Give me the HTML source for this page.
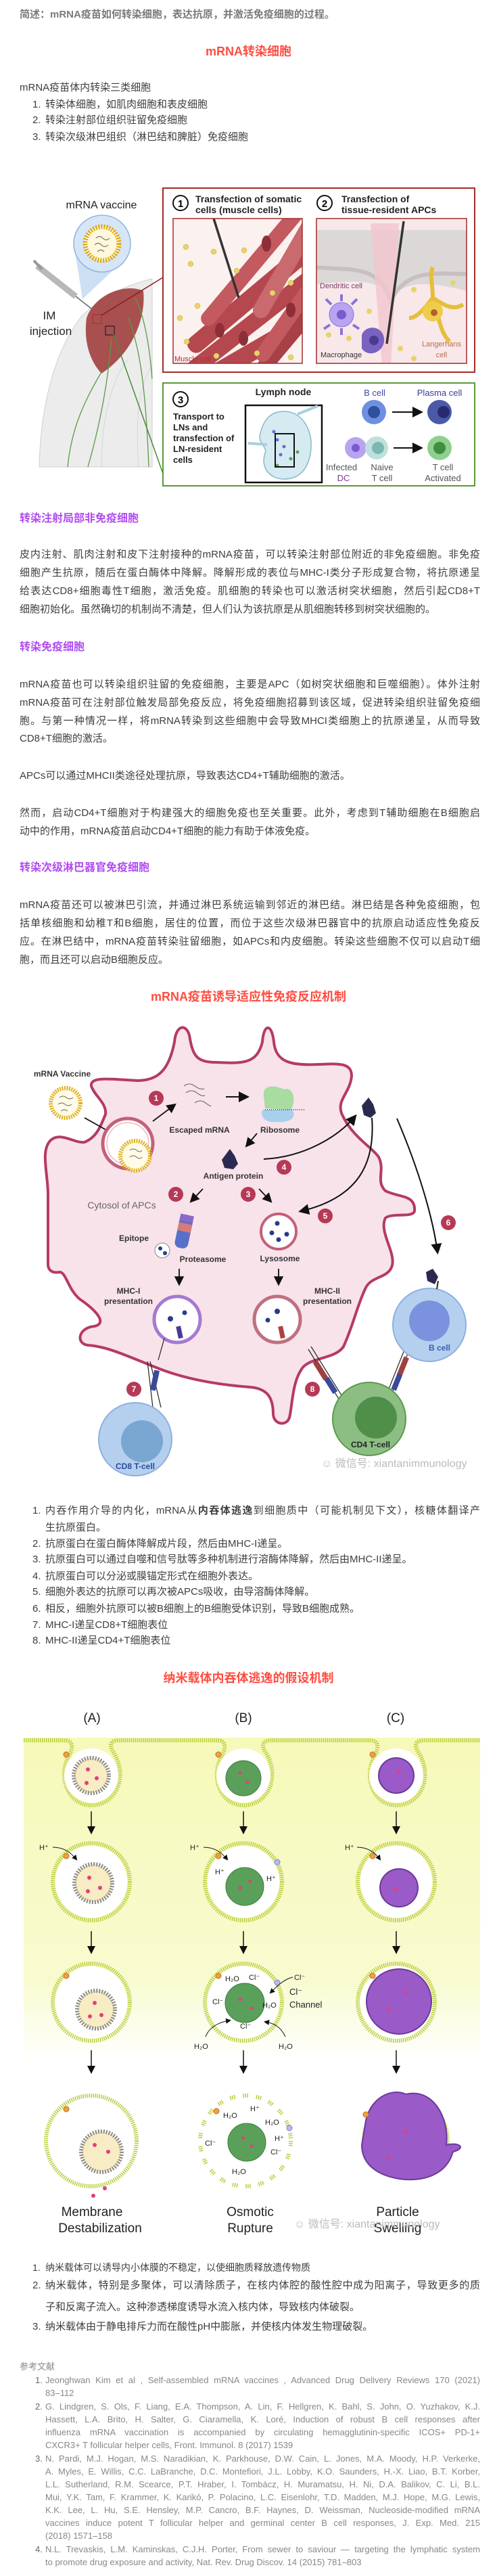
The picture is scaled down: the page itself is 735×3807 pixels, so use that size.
<!DOCTYPE html>
<html><head><meta charset="utf-8">
<style>
html,body{margin:0;padding:0;background:#fff;}
body{width:735px;height:3807px;position:relative;overflow:hidden;font-family:"Liberation Sans","Noto Sans CJK SC",sans-serif;color:#3e3e3e;}
.l{position:absolute;left:29px;width:681px;height:24px;line-height:24px;font-size:15px;white-space:nowrap;}
.j{text-align:justify;text-align-last:justify;}
.n{position:absolute;left:48px;height:24px;line-height:24px;font-size:15px;white-space:nowrap;}
.t{position:absolute;left:67px;height:24px;line-height:24px;font-size:15px;white-space:nowrap;}
.h{position:absolute;left:29px;height:24px;line-height:24px;font-size:16px;color:#b04cf0;font-weight:bold;white-space:nowrap;}
.r{position:absolute;left:0;width:735px;text-align:center;height:26px;line-height:26px;font-size:18px;color:#ff4c41;font-weight:bold;}
.rf{position:absolute;left:67px;width:643px;height:19px;line-height:19px;font-size:13px;color:#888;white-space:nowrap;}
.rn{position:absolute;left:52px;height:19px;line-height:19px;font-size:13px;color:#666;}
svg{position:absolute;left:0;top:0;}
</style></head><body>
<svg width="735" height="3807" viewBox="0 0 735 3807" font-family="Liberation Sans, sans-serif">
<defs>
<clipPath id="p1"><rect x="256" y="323" width="191" height="214"/></clipPath>
<clipPath id="p2"><rect x="468" y="323" width="222" height="214"/></clipPath>
<linearGradient id="yg" x1="0" y1="0" x2="0" y2="1">
<stop offset="0" stop-color="#f6f9b8"/><stop offset="0.75" stop-color="#f8fbcf"/><stop offset="1" stop-color="#ffffff"/></linearGradient>
<marker id="ah" markerWidth="8" markerHeight="8" refX="6" refY="4" orient="auto"><path d="M0,0 L8,4 L0,8 Z" fill="#111"/></marker>
</defs>

<!-- ============ FIGURE 1 ============ -->
<path d="M58 690 C60 600 80 520 120 468 C150 438 190 420 225 412 L225 690 Z" fill="#ececec" stroke="#cfcfcf"/>
<path d="M150 690 C150 620 165 560 190 530 M205 690 C200 620 205 570 225 540" fill="none" stroke="#d6d6d6"/>
<path d="M128 470 C140 435 185 418 212 430 C216 470 196 522 150 552 C130 530 124 500 128 470 Z" fill="#a8504f"/>
<path d="M150 550 C120 600 105 640 100 690 M165 500 C160 560 150 620 130 690 M190 470 C205 510 215 560 220 690 M200 440 C215 470 222 520 225 560" fill="none" stroke="#5a9a45" stroke-width="1.3"/>
<rect x="137" y="465" width="13" height="13" fill="none" stroke="#b03030" stroke-width="1.2"/>
<rect x="156" y="482" width="13" height="13" fill="none" stroke="#222" stroke-width="1.2"/>
<line x1="150" y1="466" x2="241" y2="410" stroke="#8b1a1a" stroke-width="1.5"/>
<line x1="168" y1="494" x2="241" y2="700" stroke="#4a8a3a" stroke-width="1.5"/>
<polygon points="112,378 190,378 122,442" fill="#bcd4ef" opacity="0.75"/>
<circle cx="151" cy="360" r="42" fill="#d6e6f7" stroke="#8fb3e0" stroke-width="1.5"/>
<circle cx="151" cy="360" r="25" fill="#fff8dc" stroke="#e0a800" stroke-width="7" stroke-dasharray="2 2"/>
<path d="M142 352 q5 -5 10 0 t10 0 M140 362 q5 -5 10 0 t10 0 M144 372 q5 -5 10 0" fill="none" stroke="#777" stroke-width="1.2"/>
<line x1="55" y1="393" x2="112" y2="438" stroke="#b8b8b8" stroke-width="9"/>
<line x1="50" y1="385" x2="62" y2="398" stroke="#999" stroke-width="4"/>
<line x1="112" y1="438" x2="135" y2="456" stroke="#666" stroke-width="1.5"/>
<text x="150" y="308" font-size="16" text-anchor="middle" fill="#222">mRNA vaccine</text>
<text x="73" y="472" font-size="17" text-anchor="middle" fill="#222">IM</text>
<text x="75" y="495" font-size="17" text-anchor="middle" fill="#222">injection</text>

<rect x="241" y="278" width="461" height="272" fill="#fff" stroke="#a52a2a" stroke-width="2"/>
<circle cx="267" cy="300" r="11" fill="#fff" stroke="#111" stroke-width="2"/>
<text x="267" y="306" font-size="15" font-weight="bold" text-anchor="middle">1</text>
<text x="289" y="299" font-size="14" font-weight="bold" fill="#222">Transfection of somatic</text>
<text x="289" y="315" font-size="14" font-weight="bold" fill="#222">cells (muscle cells)</text>
<circle cx="480" cy="300" r="11" fill="#fff" stroke="#111" stroke-width="2"/>
<text x="480" y="306" font-size="15" font-weight="bold" text-anchor="middle">2</text>
<text x="505" y="299" font-size="14" font-weight="bold" fill="#222">Transfection of</text>
<text x="505" y="315" font-size="14" font-weight="bold" fill="#222">tissue-resident APCs</text>

<g clip-path="url(#p1)">
<rect x="256" y="323" width="191" height="214" fill="#fbf1ef"/>
<g fill="#b5484f">
<rect x="250" y="420" width="260" height="26" rx="12" transform="rotate(-40 380 433)"/>
<rect x="250" y="460" width="260" height="24" rx="12" transform="rotate(-38 380 472)"/>
<rect x="260" y="380" width="230" height="22" rx="11" transform="rotate(-50 375 391)" fill="#c25a60"/>
<rect x="270" y="500" width="230" height="26" rx="12" transform="rotate(-30 385 513)"/>
<rect x="330" y="370" width="200" height="24" rx="12" transform="rotate(-60 430 382)" fill="#c86a6e"/>
<rect x="300" y="520" width="200" height="22" rx="11" transform="rotate(-50 400 531)" fill="#a84048"/>
<rect x="340" y="440" width="200" height="22" rx="11" transform="rotate(-55 440 451)" fill="#c25a60"/>
</g>
<g fill="#8e2e36"><ellipse cx="394" cy="360" rx="7" ry="12"/><ellipse cx="325" cy="488" rx="7" ry="11"/><ellipse cx="430" cy="458" rx="7" ry="11"/><ellipse cx="360" cy="500" rx="7" ry="11"/></g>
<g fill="#e6d46a" stroke="#c9b040" stroke-width="0.5"><circle cx="275" cy="365" r="4"/><circle cx="282" cy="390" r="4"/><circle cx="316" cy="372" r="4"/><circle cx="292" cy="452" r="4"/><circle cx="266" cy="470" r="4"/><circle cx="350" cy="400" r="4"/><circle cx="403" cy="433" r="4"/><circle cx="430" cy="418" r="4"/><circle cx="380" cy="522" r="4"/><circle cx="320" cy="526" r="4"/><circle cx="430" cy="528" r="4"/><circle cx="276" cy="505" r="4"/><circle cx="361" cy="370" r="4"/></g>
<line x1="316" y1="323" x2="353" y2="440" stroke="#333" stroke-width="3.5"/>
</g>
<rect x="256" y="323" width="191" height="214" fill="none" stroke="#a52a2a" stroke-width="1.5"/>
<text x="258" y="534" font-size="11" fill="#b03030">Muscle cell</text>

<g clip-path="url(#p2)">
<rect x="468" y="323" width="222" height="214" fill="#f8e8ea"/>
<path d="M468 340 L690 340 L690 430 C650 420 600 410 580 440 C560 410 520 415 468 420 Z" fill="#dcd8d8"/>
<path d="M468 395 C520 400 560 390 578 445 C600 395 650 405 690 405" fill="none" stroke="#c8c0c0" stroke-width="6"/>
<polygon points="548,330 590,330 578,540 565,540" fill="#f3c5ce" opacity="0.8"/>
<line x1="597" y1="327" x2="572" y2="508" stroke="#333" stroke-width="3.5"/>
<g fill="#b8a4f0" stroke="#8a74d6"><circle cx="505" cy="465" r="18"/><path d="M490 450 l-8 -8 M520 450 l8 -8 M488 480 l-9 6 M522 480 l9 6 M505 445 l0 -10 M505 485 l0 10" stroke-width="4"/></g>
<circle cx="505" cy="465" r="7" fill="#7a5ad0"/>
<path d="M535 495 C540 480 565 480 568 500 C570 520 545 530 535 515 Z" fill="#7a62c0"/>
<circle cx="553" cy="503" r="7" fill="#4a3a90"/>
<path d="M640 440 C655 450 670 460 685 450 M640 440 C650 470 650 490 665 505 M640 440 C625 460 615 470 605 470 M640 440 C640 420 635 405 640 395" fill="none" stroke="#e6be3a" stroke-width="6"/>
<circle cx="640" cy="460" r="15" fill="#f0cc4a"/>
<circle cx="642" cy="462" r="5" fill="#b0602a"/>
<g fill="#e6d46a"><circle cx="546" cy="460" r="4"/><circle cx="486" cy="495" r="4"/><circle cx="516" cy="500" r="4"/><circle cx="592" cy="515" r="4"/><circle cx="612" cy="428" r="4"/><circle cx="612" cy="530" r="4"/><circle cx="670" cy="418" r="4"/></g>
</g>
<rect x="468" y="323" width="222" height="214" fill="none" stroke="#a52a2a" stroke-width="1.5"/>
<text x="473" y="426" font-size="11" fill="#7a3c6a">Dendritic cell</text>
<text x="474" y="528" font-size="11" fill="#333">Macrophage</text>
<text x="653" y="512" font-size="11" text-anchor="middle" fill="#b5704a">Langerhans</text>
<text x="653" y="528" font-size="11" text-anchor="middle" fill="#b5704a">cell</text>

<rect x="241" y="566" width="461" height="152" fill="#fff" stroke="#5a9a3a" stroke-width="2"/>
<circle cx="267" cy="590" r="11" fill="#fff" stroke="#111" stroke-width="2"/>
<text x="267" y="596" font-size="15" font-weight="bold" text-anchor="middle">3</text>
<g font-size="13" font-weight="bold" fill="#222"><text x="256" y="620">Transport to</text><text x="256" y="636">LNs and</text><text x="256" y="652">transfection of</text><text x="256" y="668">LN-resident</text><text x="256" y="684">cells</text></g>
<text x="419" y="584" font-size="14" font-weight="bold" text-anchor="middle" fill="#222">Lymph node</text>
<rect x="363" y="599" width="113" height="114" fill="#fff" stroke="#111" stroke-width="2.5"/>
<path d="M420 608 C450 608 462 640 460 662 C458 690 445 708 420 708 C398 708 385 690 392 670 C396 660 380 655 385 640 C390 620 400 608 420 608 Z" fill="#d6eaf2" stroke="#8bb7c8" stroke-width="1.5"/>
<path d="M367 655 L395 657 M440 612 L470 600" stroke="#a8cfe0" stroke-width="4"/>
<g fill="#6a6ad0"><circle cx="410" cy="650" r="2.5"/><circle cx="420" cy="660" r="2.5"/><circle cx="415" cy="672" r="2.5"/><circle cx="405" cy="638" r="2.5"/></g>
<g fill="#5aa05a"><circle cx="430" cy="678" r="2.5"/><circle cx="440" cy="668" r="2.5"/><circle cx="410" cy="688" r="2.5"/></g>
<rect x="407" y="641" width="28" height="49" fill="none" stroke="#111" stroke-width="2"/>
<text x="554" y="585" font-size="13" text-anchor="middle" fill="#3a4ab0">B cell</text>
<text x="650" y="585" font-size="13" text-anchor="middle" fill="#3a3a9a">Plasma cell</text>
<circle cx="553" cy="609" r="18" fill="#6f8fe0"/><circle cx="553" cy="609" r="9" fill="#2f4f9f"/>
<line x1="580" y1="609" x2="622" y2="609" stroke="#111" stroke-width="2" marker-end="url(#ah)"/>
<circle cx="650" cy="609" r="18" fill="#4a5aa8"/><circle cx="656" cy="609" r="9" fill="#2a2a70"/>
<circle cx="526" cy="662" r="16" fill="#b8a4f0"/><circle cx="526" cy="662" r="6" fill="#7a5ad0"/>
<circle cx="557" cy="662" r="17" fill="#bfe0dc"/><circle cx="559" cy="662" r="9" fill="#7ab8b0"/>
<line x1="582" y1="662" x2="622" y2="662" stroke="#111" stroke-width="2" marker-end="url(#ah)"/>
<circle cx="650" cy="662" r="18" fill="#8fcf8f"/><circle cx="650" cy="662" r="9" fill="#3f8f3f"/>
<g font-size="13" fill="#555" text-anchor="middle"><text x="505" y="695">Infected</text><text x="508" y="711" fill="#7a3c8a">DC</text><text x="565" y="695">Naive</text><text x="565" y="711">T cell</text><text x="655" y="695">T cell</text><text x="655" y="711">Activated</text></g>

<!-- ============ FIGURE 2 ============ -->
<path d="M71 1870 L71 1763 C70 1730 60 1700 75 1685 C90 1672 110 1690 125 1688 C145 1680 150 1660 156 1647 C158 1630 140 1620 135 1605 C133 1590 165 1595 203 1597 C235 1597 250 1580 258 1540 C260 1515 275 1512 280 1530 C285 1560 290 1570 320 1570 C360 1572 380 1572 388 1540 C390 1512 402 1512 405 1540 C408 1570 430 1575 472 1573 C500 1572 520 1570 520 1590 C518 1615 498 1625 505 1645 C520 1680 550 1695 560 1710 C570 1730 555 1745 570 1760 C590 1770 615 1765 613 1790 C610 1800 580 1792 570 1800 C560 1820 585 1850 580 1870 C575 1890 548 1885 540 1905 C528 1930 522 1960 508 1990 C495 2010 455 2005 445 2025 C432 2045 432 2080 428 2095 C424 2108 405 2106 404 2090 C404 2065 395 2052 370 2050 C330 2047 280 2040 236 2023 C190 2005 160 1990 130 1988 C112 1986 115 1962 140 1960 C160 1955 140 1935 118 1920 C100 1905 98 1880 88 1880 C78 1882 72 1878 71 1870 Z" fill="#f8e3ea" stroke="#b53a66" stroke-width="4"/>
<text x="92" y="1591" font-size="12" font-weight="bold" text-anchor="middle" fill="#333">mRNA Vaccine</text>
<circle cx="97" cy="1630" r="22" fill="#fffbe6" stroke="#e0b020" stroke-width="6" stroke-dasharray="2 1.5"/>
<path d="M88 1622 q5 -4 10 0 t10 0 M86 1632 q5 -4 10 0 t10 0 M90 1642 q5 -4 10 0" fill="none" stroke="#666"/>
<line x1="125" y1="1652" x2="168" y2="1676" stroke="#111" stroke-width="1.8" marker-end="url(#ah)"/>
<circle cx="189" cy="1690" r="37" fill="#fff" stroke="#c4607a" stroke-width="5"/>
<circle cx="189" cy="1690" r="31" fill="none" stroke="#f0c8d2" stroke-width="2"/>
<circle cx="200" cy="1708" r="22" fill="#fffbe6" stroke="#e0b020" stroke-width="6" stroke-dasharray="2 1.5"/>
<path d="M192 1700 q5 -4 10 0 t8 0 M192 1710 q5 -4 10 0 t8 0" fill="none" stroke="#666"/>
<line x1="226" y1="1657" x2="258" y2="1633" stroke="#111" stroke-width="1.8" marker-end="url(#ah)"/>
<g fill="#b53a56"><circle cx="231" cy="1623" r="11"/><circle cx="420" cy="1725" r="11"/><circle cx="260" cy="1765" r="11"/><circle cx="367" cy="1765" r="11"/><circle cx="481" cy="1797" r="11"/><circle cx="663" cy="1807" r="11"/><circle cx="198" cy="2053" r="11"/><circle cx="462" cy="2053" r="11"/></g>
<g fill="#fff" font-size="12" font-weight="bold" text-anchor="middle"><text x="231" y="1627">1</text><text x="420" y="1729">4</text><text x="260" y="1769">2</text><text x="367" y="1769">3</text><text x="481" y="1801">5</text><text x="663" y="1811">6</text><text x="198" y="2057">7</text><text x="462" y="2057">8</text></g>
<path d="M272 1605 q8 -6 16 0 t14 4 M275 1615 q8 -6 16 0 t12 4 M288 1630 q8 -6 16 0 t8 4" fill="none" stroke="#777" stroke-width="1.3"/>
<line x1="334" y1="1621" x2="365" y2="1621" stroke="#111" stroke-width="2" marker-end="url(#ah)"/>
<path d="M390 1620 C388 1600 410 1605 420 1610 C432 1605 440 1625 430 1640 L392 1638 Z" fill="#a8dca0"/>
<path d="M388 1640 L432 1640 C440 1650 430 1660 410 1658 C390 1660 385 1650 388 1640 Z" fill="#a8d0ec"/>
<path d="M392 1640 L452 1640" stroke="#333" stroke-width="1.5" stroke-dasharray="1 2"/>
<text x="295" y="1674" font-size="12" font-weight="bold" text-anchor="middle" fill="#333">Escaped mRNA</text>
<text x="414" y="1674" font-size="12" font-weight="bold" text-anchor="middle" fill="#333">Ribosome</text>
<line x1="380" y1="1675" x2="365" y2="1693" stroke="#111" stroke-width="1.8" marker-end="url(#ah)"/>
<path d="M340 1698 L347 1708 L352 1720 L345 1728 L332 1726 L328 1714 Z" fill="#2a2a50"/>
<text x="345" y="1742" font-size="12" font-weight="bold" text-anchor="middle" fill="#333">Antigen protein</text>
<path d="M390 1713 C450 1710 500 1680 525 1650" fill="none" stroke="#111" stroke-width="2" marker-end="url(#ah)"/>
<path d="M545 1622 L552 1632 L556 1645 L548 1652 L538 1648 L535 1634 Z" fill="#2a2a50"/>
<line x1="300" y1="1757" x2="283" y2="1775" stroke="#111" stroke-width="1.8" marker-end="url(#ah)"/>
<line x1="383" y1="1757" x2="400" y2="1775" stroke="#111" stroke-width="1.8" marker-end="url(#ah)"/>
<path d="M550 1652 C555 1720 530 1770 445 1790" fill="none" stroke="#111" stroke-width="2" marker-end="url(#ah)"/>
<path d="M587 1653 C620 1730 640 1800 647 1850" fill="none" stroke="#111" stroke-width="2" marker-end="url(#ah)"/>
<text x="180" y="1786" font-size="14" text-anchor="middle" fill="#666">Cytosol of APCs</text>
<g><rect x="262" y="1795" width="20" height="50" rx="8" fill="#5a70c8" transform="rotate(12 272 1820)"/><rect x="262" y="1808" width="20" height="12" fill="#d87a7a" transform="rotate(12 272 1820)"/><rect x="262" y="1795" width="20" height="10" fill="#8a6ac8" transform="rotate(12 272 1820)"/></g>
<text x="198" y="1834" font-size="12" font-weight="bold" text-anchor="middle" fill="#333">Epitope</text>
<circle cx="240" cy="1848" r="11" fill="#fff" stroke="#888"/><circle cx="237" cy="1845" r="3" fill="#2a3a8a"/><circle cx="244" cy="1852" r="3" fill="#2a3a8a"/>
<text x="300" y="1865" font-size="12" font-weight="bold" text-anchor="middle" fill="#333">Proteasome</text>
<circle cx="412" cy="1820" r="26" fill="#fff" stroke="#c4607a" stroke-width="4"/>
<g fill="#2a3a8a"><circle cx="410" cy="1808" r="3.5"/><circle cx="402" cy="1822" r="3.5"/><circle cx="424" cy="1824" r="3.5"/><circle cx="412" cy="1832" r="3.5"/></g>
<text x="414" y="1864" font-size="12" font-weight="bold" text-anchor="middle" fill="#333">Lysosome</text>
<line x1="265" y1="1875" x2="265" y2="1897" stroke="#111" stroke-width="1.8" marker-end="url(#ah)"/>
<line x1="412" y1="1875" x2="412" y2="1897" stroke="#111" stroke-width="1.8" marker-end="url(#ah)"/>
<g font-size="12" font-weight="bold" text-anchor="middle" fill="#333"><text x="190" y="1912">MHC-I</text><text x="190" y="1927">presentation</text><text x="484" y="1912">MHC-II</text><text x="484" y="1927">presentation</text></g>
<circle cx="262" cy="1950" r="34" fill="#fff" stroke="#a47ad0" stroke-width="5"/>
<circle cx="410" cy="1950" r="34" fill="#fff" stroke="#c07080" stroke-width="5"/>
<g fill="#2a3a8a"><circle cx="252" cy="1949" r="4"/><circle cx="273" cy="1940" r="3.5"/><circle cx="410" cy="1938" r="4"/><circle cx="396" cy="1951" r="3.5"/></g>
<rect x="262" y="1960" width="7" height="18" fill="#4a3a9a" transform="rotate(-12 265 1969)"/>
<rect x="413" y="1960" width="7" height="18" fill="#b04040" transform="rotate(-12 416 1969)"/>
<g stroke="#222" stroke-width="1.2"><line x1="234" y1="2010" x2="243" y2="1978"/><line x1="222" y1="2012" x2="238" y2="2080"/><line x1="218" y1="2012" x2="226" y2="2080"/><line x1="460" y1="1990" x2="510" y2="2070"/><line x1="456" y1="1994" x2="505" y2="2074"/><line x1="602" y1="1985" x2="570" y2="2065"/><line x1="608" y1="1988" x2="576" y2="2068"/></g>
<rect x="225" y="2025" width="8" height="30" fill="#3a4a9a" transform="rotate(12 229 2040)"/>
<rect x="470" y="2010" width="8" height="30" fill="#a04040" transform="rotate(-32 474 2025)"/>
<rect x="485" y="2035" width="8" height="25" fill="#3a4a9a" transform="rotate(-32 489 2047)"/>
<rect x="592" y="2005" width="8" height="28" fill="#a04040" transform="rotate(22 596 2019)"/>
<rect x="583" y="2030" width="8" height="25" fill="#3a4a9a" transform="rotate(22 587 2042)"/>
<circle cx="635" cy="1958" r="54" fill="#b4d0ee" stroke="#8eb0e0" stroke-width="2"/>
<circle cx="635" cy="1952" r="30" fill="#7b92de"/>
<text x="650" y="1996" font-size="12" font-weight="bold" text-anchor="middle" fill="#3a5ab0">B cell</text>
<path d="M640 1875 L648 1887 L643 1898 L632 1893 L630 1880 Z" fill="#2a2a50"/>
<line x1="648" y1="1893" x2="646" y2="1905" stroke="#222" stroke-width="2"/>
<circle cx="546" cy="2097" r="54" fill="#8cbe84" stroke="#5a9a4a" stroke-width="2"/>
<circle cx="556" cy="2095" r="31" fill="#4f8f4a"/>
<text x="548" y="2139" font-size="12" font-weight="bold" text-anchor="middle" fill="#222">CD4 T-cell</text>
<circle cx="200" cy="2127" r="54" fill="#b4d0ee" stroke="#8eb0e0" stroke-width="2"/>
<circle cx="210" cy="2130" r="31" fill="#7aa6d2"/>
<text x="200" y="2171" font-size="12" font-weight="bold" text-anchor="middle" fill="#2a4a9a">CD8 T-cell</text>
<text x="475" y="2168" font-size="16" fill="#bbb">☺ 微信号: xiantanimmunology</text>

<!-- ============ FIGURE 3 ============ -->
<rect x="35" y="2568" width="675" height="478" fill="url(#yg)"/>
<g fill="none" stroke="#b8cc3a" stroke-width="6" stroke-dasharray="1.5 1.5">
<path d="M35 2572 L96 2572 C106 2572 110 2580 102 2595 C85 2625 100 2668 135 2668 C172 2668 190 2625 168 2590 C160 2578 165 2572 175 2572 L322 2572 C332 2572 336 2580 328 2595 C311 2625 325 2668 360 2668 C397 2668 415 2625 393 2590 C385 2578 390 2572 400 2572 L548 2572 C558 2572 562 2580 554 2595 C537 2625 551 2668 586 2668 C623 2668 641 2625 619 2590 C611 2578 616 2572 626 2572 L710 2572"/>
<circle cx="135" cy="2781" r="57"/><circle cx="360" cy="2781" r="57"/><circle cx="586" cy="2781" r="57"/>
<circle cx="135" cy="2959" r="57"/><circle cx="360" cy="2959" r="57"/><circle cx="586" cy="2959" r="57"/>
<circle cx="135" cy="3164" r="67"/>
<circle cx="363" cy="3164" r="67" stroke-dasharray="1.5 1.5 1.5 1.5 1.5 12"/>
<path d="M538 3165 A62 62 0 1 1 640 3210"/>
</g>
<g fill="#fff"><circle cx="135" cy="2624" r="40"/><circle cx="360" cy="2624" r="40"/><circle cx="586" cy="2624" r="40"/>
<circle cx="135" cy="2781" r="53"/><circle cx="360" cy="2781" r="53"/><circle cx="586" cy="2781" r="53"/>
<circle cx="135" cy="2959" r="53"/><circle cx="360" cy="2959" r="53"/><circle cx="586" cy="2959" r="53"/>
<circle cx="135" cy="3164" r="63"/><circle cx="363" cy="3164" r="63"/></g>
<g fill="#f8ecc4" stroke="#8a8a8a" stroke-width="6" stroke-dasharray="2 2">
<circle cx="135" cy="2624" r="26"/><circle cx="138" cy="2783" r="28"/><circle cx="142" cy="2970" r="28"/><circle cx="150" cy="3180" r="30"/></g>
<g fill="#5aa05a" stroke="#3a7a3a"><circle cx="360" cy="2628" r="26"/><circle cx="362" cy="2788" r="28"/><circle cx="362" cy="2960" r="29"/><circle cx="365" cy="3166" r="28"/></g>
<g fill="#9a5ac8" stroke="#6a3a9a" stroke-width="2"><circle cx="586" cy="2624" r="26"/><circle cx="590" cy="2790" r="28"/><circle cx="590" cy="2958" r="48"/><path d="M540 3140 C545 3100 580 3085 600 3095 C640 3085 665 3130 660 3170 C680 3165 690 3175 670 3180 C660 3215 625 3225 590 3220 C560 3215 535 3200 535 3170 Z"/></g>
<g fill="#e0407a"><circle cx="130" cy="2615" r="3"/><circle cx="143" cy="2628" r="3"/><circle cx="128" cy="2635" r="3"/><circle cx="132" cy="2775" r="3"/><circle cx="148" cy="2790" r="3"/><circle cx="130" cy="2795" r="3"/><circle cx="140" cy="2960" r="3"/><circle cx="150" cy="2978" r="3"/><circle cx="133" cy="2980" r="3"/><circle cx="140" cy="3170" r="3"/><circle cx="160" cy="3180" r="3"/><circle cx="155" cy="3234" r="3"/><circle cx="138" cy="3245" r="3"/><circle cx="355" cy="2620" r="2.5"/><circle cx="366" cy="2634" r="2.5"/><circle cx="355" cy="2790" r="2.5"/><circle cx="370" cy="2780" r="2.5"/><circle cx="355" cy="2955" r="2.5"/><circle cx="372" cy="2968" r="2.5"/><circle cx="360" cy="3160" r="2.5"/><circle cx="372" cy="3172" r="2.5"/><circle cx="590" cy="2618" r="2.5"/><circle cx="585" cy="2792" r="2.5"/><circle cx="600" cy="2945" r="2.5"/><circle cx="575" cy="2970" r="2.5"/><circle cx="600" cy="3150" r="2.5"/><circle cx="575" cy="3190" r="2.5"/></g>
<g stroke="#111" stroke-width="1.5" marker-end="url(#ah)">
<line x1="135" y1="2677" x2="135" y2="2708"/><line x1="360" y1="2677" x2="360" y2="2708"/><line x1="586" y1="2677" x2="586" y2="2708"/>
<line x1="135" y1="2854" x2="135" y2="2885"/><line x1="360" y1="2854" x2="360" y2="2885"/><line x1="586" y1="2854" x2="586" y2="2885"/>
<line x1="135" y1="3030" x2="135" y2="3062"/><line x1="360" y1="3030" x2="360" y2="3062"/><line x1="586" y1="3030" x2="586" y2="3062"/>
</g>
<g fill="#f0a040" stroke="#c07020"><circle cx="98" cy="2593" r="4"/><circle cx="323" cy="2593" r="4"/><circle cx="551" cy="2593" r="4"/><circle cx="98" cy="2743" r="4"/><circle cx="323" cy="2743" r="4"/><circle cx="551" cy="2743" r="4"/><circle cx="98" cy="2920" r="4"/><circle cx="323" cy="2920" r="4"/><circle cx="551" cy="2920" r="4"/><circle cx="98" cy="3117" r="4"/><circle cx="320" cy="3120" r="4"/><circle cx="541" cy="3125" r="4"/></g>
<g fill="#b8b8f0" stroke="#8080c0"><circle cx="410" cy="2752" r="4"/><circle cx="410" cy="2930" r="4"/><circle cx="428" cy="3145" r="4"/></g>
<g font-size="11" fill="#222">
<text x="58" y="2734">H⁺</text><text x="281" y="2734">H⁺</text><text x="510" y="2734">H⁺</text>
<text x="318" y="2770">H⁺</text><text x="394" y="2780">H⁺</text>
<text x="333" y="2928">H₂O</text><text x="368" y="2926">Cl⁻</text><text x="435" y="2926">Cl⁻</text><text x="428" y="2948" font-size="13">Cl⁻</text><text x="428" y="2967" font-size="13">Channel</text>
<text x="314" y="2962">Cl⁻</text><text x="388" y="2967">H₂O</text><text x="355" y="2998">Cl⁻</text><text x="287" y="3028">H₂O</text><text x="412" y="3028">H₂O</text>
<text x="370" y="3120">H⁺</text><text x="330" y="3130">H₂O</text><text x="392" y="3140">H₂O</text><text x="406" y="3164">H⁺</text><text x="303" y="3171">Cl⁻</text><text x="400" y="3184">Cl⁻</text><text x="343" y="3213">H₂O</text>
</g>
<g fill="none" stroke="#111" stroke-width="1" marker-end="url(#ah)"><path d="M78 2730 C95 2730 105 2738 113 2748"/><path d="M301 2730 C318 2730 328 2738 336 2748"/><path d="M528 2730 C545 2730 555 2738 562 2748"/><path d="M304 3010 C310 2995 325 2988 340 2986"/><path d="M422 3010 C415 2995 405 2990 392 2988"/><path d="M433 2922 C420 2925 410 2935 400 2945"/></g>
<g font-size="19" fill="#222" text-anchor="middle">
<text x="136" y="3275">Membrane</text><text x="148" y="3299">Destabilization</text>
<text x="370" y="3275">Osmotic</text><text x="370" y="3299">Rupture</text>
<text x="588" y="3275">Particle</text><text x="588" y="3299">Swelling</text>
<text x="136" y="2545">(A)</text><text x="360" y="2545">(B)</text><text x="585" y="2545">(C)</text>
</g>
<text x="435" y="3292" font-size="16" fill="#bbb">☺ 微信号: xiantanimmunology</text>
</svg>

<div class="l" style="top:10px;color:#7a7a7a;font-weight:bold;">简述：mRNA疫苗如何转染细胞，表达抗原，并激活免疫细胞的过程。</div>
<div class="r" style="top:63px;">mRNA转染细胞</div>
<div class="l" style="top:118px;">mRNA疫苗体内转染三类细胞</div>
<div class="n" style="top:143px;">1.</div><div class="t" style="top:143px;">转染体细胞，如肌肉细胞和表皮细胞</div>
<div class="n" style="top:166px;">2.</div><div class="t" style="top:166px;">转染注射部位组织驻留免疫细胞</div>
<div class="n" style="top:191px;">3.</div><div class="t" style="top:191px;">转染次级淋巴组织（淋巴结和脾脏）免疫细胞</div>

<div class="h" style="top:755px;">转染注射局部非免疫细胞</div>
<div class="l j" style="top:808px;">皮内注射、肌肉注射和皮下注射接种的mRNA疫苗，可以转染注射部位附近的非免疫细胞。非免疫</div>
<div class="l j" style="top:835px;">细胞产生抗原，随后在蛋白酶体中降解。降解形成的表位与MHC-I类分子形成复合物，将抗原递呈</div>
<div class="l j" style="top:862px;">给表达CD8+细胞毒性T细胞，激活免疫。肌细胞的转染也可以激活树突状细胞，然后引起CD8+T</div>
<div class="l" style="top:889px;">细胞初始化。虽然确切的机制尚不清楚，但人们认为该抗原是从肌细胞转移到树突状细胞的。</div>
<div class="h" style="top:945px;">转染免疫细胞</div>
<div class="l j" style="top:1000px;">mRNA疫苗也可以转染组织驻留的免疫细胞，主要是APC（如树突状细胞和巨噬细胞）。体外注射</div>
<div class="l j" style="top:1027px;">mRNA疫苗可在注射部位触发局部免疫反应，将免疫细胞招募到该区域，促进转染组织驻留免疫细</div>
<div class="l j" style="top:1054px;">胞。与第一种情况一样，将mRNA转染到这些细胞中会导致MHCI类细胞上的抗原递呈，从而导致</div>
<div class="l" style="top:1080px;">CD8+T细胞的激活。</div>
<div class="l" style="top:1135px;">APCs可以通过MHCII类途径处理抗原，导致表达CD4+T辅助细胞的激活。</div>
<div class="l j" style="top:1190px;">然而，启动CD4+T细胞对于构建强大的细胞免疫也至关重要。此外，考虑到T辅助细胞在B细胞启</div>
<div class="l" style="top:1217px;">动中的作用，mRNA疫苗启动CD4+T细胞的能力有助于体液免疫。</div>
<div class="h" style="top:1271px;">转染次级淋巴器官免疫细胞</div>
<div class="l j" style="top:1326px;">mRNA疫苗还可以被淋巴引流，并通过淋巴系统运输到邻近的淋巴结。淋巴结是各种免疫细胞，包</div>
<div class="l j" style="top:1353px;">括单核细胞和幼稚T和B细胞，居住的位置，而位于这些次级淋巴器官中的抗原启动适应性免疫反</div>
<div class="l j" style="top:1380px;">应。在淋巴结中，mRNA疫苗转染驻留细胞，如APCs和内皮细胞。转染这些细胞不仅可以启动T细</div>
<div class="l" style="top:1407px;">胞，而且还可以启动B细胞反应。</div>

<div class="r" style="top:1460px;">mRNA疫苗诱导适应性免疫反应机制</div>

<div class="n" style="top:2221px;">1.</div><div class="t j" style="top:2221px;width:643px;">内吞作用介导的内化，mRNA从<b>内吞体逃逸</b>到细胞质中（可能机制见下文），核糖体翻译产</div>
<div class="t" style="top:2246px;">生抗原蛋白。</div>
<div class="n" style="top:2270px;">2.</div><div class="t" style="top:2270px;">抗原蛋白在蛋白酶体降解成片段，然后由MHC-I递呈。</div>
<div class="n" style="top:2293px;">3.</div><div class="t" style="top:2293px;">抗原蛋白可以通过自噬和信号肽等多种机制进行溶酶体降解，然后由MHC-II递呈。</div>
<div class="n" style="top:2318px;">4.</div><div class="t" style="top:2318px;">抗原蛋白可以分泌或膜锚定形式在细胞外表达。</div>
<div class="n" style="top:2341px;">5.</div><div class="t" style="top:2341px;">细胞外表达的抗原可以再次被APCs吸收，由导溶酶体降解。</div>
<div class="n" style="top:2366px;">6.</div><div class="t" style="top:2366px;">相反，细胞外抗原可以被B细胞上的B细胞受体识别，导致B细胞成熟。</div>
<div class="n" style="top:2390px;">7.</div><div class="t" style="top:2390px;">MHC-I递呈CD8+T细胞表位</div>
<div class="n" style="top:2413px;">8.</div><div class="t" style="top:2413px;">MHC-II递呈CD4+T细胞表位</div>

<div class="r" style="top:2467px;">纳米载体内吞体逃逸的假设机制</div>

<div class="n" style="top:3339px;font-size:14px;">1.</div><div class="t" style="top:3339px;font-size:14px;">纳米载体可以诱导内小体膜的不稳定，以使细胞质释放遗传物质</div>
<div class="n" style="top:3366px;">2.</div><div class="t j" style="top:3366px;width:643px;">纳米载体，特别是多聚体，可以清除质子，在核内体腔的酸性腔中成为阳离子，导致更多的质</div>
<div class="t" style="top:3398px;">子和反离子流入。这种渗透梯度诱导水流入核内体，导致核内体破裂。</div>
<div class="n" style="top:3427px;">3.</div><div class="t" style="top:3427px;">纳米载体由于静电排斥力而在酸性pH中膨胀，并使核内体发生物理破裂。</div>

<div class="rf" style="left:29px;top:3488px;">参考文献</div>
<div class="rn" style="top:3508px;">1.</div><div class="rf j" style="top:3508px;">Jeonghwan Kim et al , Self-assembled mRNA vaccines , Advanced Drug Delivery Reviews 170 (2021)</div>
<div class="rf" style="top:3527px;">83–112</div>
<div class="rn" style="top:3547px;">2.</div><div class="rf j" style="top:3547px;">G. Lindgren, S. Ols, F. Liang, E.A. Thompson, A. Lin, F. Hellgren, K. Bahl, S. John, O. Yuzhakov, K.J.</div>
<div class="rf j" style="top:3566px;">Hassett, L.A. Brito, H. Salter, G. Ciaramella, K. Loré, Induction of robust B cell responses after</div>
<div class="rf j" style="top:3585px;">influenza mRNA vaccination is accompanied by circulating hemagglutinin-specific ICOS+ PD-1+</div>
<div class="rf" style="top:3604px;">CXCR3+ T follicular helper cells, Front. Immunol. 8 (2017) 1539</div>
<div class="rn" style="top:3624px;">3.</div><div class="rf j" style="top:3624px;">N. Pardi, M.J. Hogan, M.S. Naradikian, K. Parkhouse, D.W. Cain, L. Jones, M.A. Moody, H.P. Verkerke,</div>
<div class="rf j" style="top:3643px;">A. Myles, E. Willis, C.C. LaBranche, D.C. Montefiori, J.L. Lobby, K.O. Saunders, H.-X. Liao, B.T. Korber,</div>
<div class="rf j" style="top:3662px;">L.L. Sutherland, R.M. Scearce, P.T. Hraber, I. Tombácz, H. Muramatsu, H. Ni, D.A. Balikov, C. Li, B.L.</div>
<div class="rf j" style="top:3681px;">Mui, Y.K. Tam, F. Krammer, K. Karikó, P. Polacino, L.C. Eisenlohr, T.D. Madden, M.J. Hope, M.G. Lewis,</div>
<div class="rf j" style="top:3700px;">K.K. Lee, L. Hu, S.E. Hensley, M.P. Cancro, B.F. Haynes, D. Weissman, Nucleoside-modified mRNA</div>
<div class="rf j" style="top:3719px;">vaccines induce potent T follicular helper and germinal center B cell responses, J. Exp. Med. 215</div>
<div class="rf" style="top:3738px;">(2018) 1571–158</div>
<div class="rn" style="top:3758px;">4.</div><div class="rf j" style="top:3758px;">N.L. Trevaskis, L.M. Kaminskas, C.J.H. Porter, From sewer to saviour — targeting the lymphatic system</div>
<div class="rf" style="top:3777px;">to promote drug exposure and activity, Nat. Rev. Drug Discov. 14 (2015) 781–803</div>
</body></html>
